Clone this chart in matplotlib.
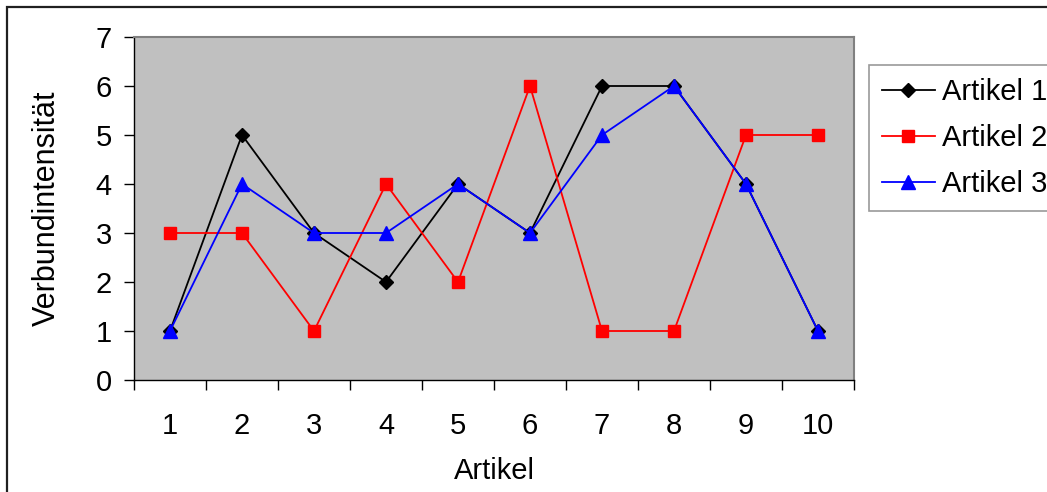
import matplotlib
matplotlib.use("Agg")
import matplotlib.pyplot as plt
from matplotlib.patches import Rectangle

categories = ["1", "2", "3", "4", "5", "6", "7", "8", "9", "10"]
artikel1 = [1, 5, 3, 2, 4, 3, 6, 6, 4, 1]
artikel2 = [3, 3, 1, 4, 2, 6, 1, 1, 5, 5]
artikel3 = [1, 4, 3, 3, 4, 3, 5, 6, 4, 1]
series_names = ["Artikel 1", "Artikel 2", "Artikel 3"]

plt.rcParams['font.family'] = ['Liberation Sans', 'DejaVu Sans']
FS = 21

W, H = 1047, 492
fig = plt.figure(figsize=(W / 100, H / 100), dpi=100)
fig.patch.set_facecolor('white')

# outer chart border
fig.add_artist(Rectangle((7 / W, -0.1), 1.2, (H - 7) / H + 0.1, transform=fig.transFigure,
                         fill=False, edgecolor='#202020', linewidth=1.6))

L, T, R, B = 134, 37, 854, 380
ax = fig.add_axes([L / W, 1 - B / H, (R - L) / W, (B - T) / H])
ax.set_facecolor('#C0C0C0')

x = list(range(1, len(categories) + 1))
ax.plot(x, artikel1, color='black', marker='D', markersize=7, linewidth=1.3, label=series_names[0])
ax.plot(x, artikel2, color='#FF0000', marker='s', markersize=9, linewidth=1.3, label=series_names[1])
ax.plot(x, artikel3, color='#0000FF', marker='^', markersize=9.5, linewidth=1.3, label=series_names[2])

ax.set_xlim(0.5, len(categories) + 0.5)
ax.set_ylim(0, 7)
ax.set_yticks(range(0, 8))
ax.set_xticks(x)
ax.set_xticklabels(categories)
ax.set_xticks([i + 0.5 for i in range(0, len(categories) + 1)], minor=True)
ax.tick_params(axis='x', which='major', length=0, pad=23, labelsize=FS)
ax.tick_params(axis='x', which='minor', length=7, width=1, direction='out')
ax.tick_params(axis='y', length=7, width=1, direction='out', pad=9, labelsize=FS)

for s in ['left', 'bottom']:
    ax.spines[s].set_color('black')
    ax.spines[s].set_linewidth(1)
for s in ['top', 'right']:
    ax.spines[s].set_color('#808080')
    ax.spines[s].set_linewidth(1.5)

ax.set_xlabel("Artikel", fontsize=FS, labelpad=12)
ax.set_ylabel("Verbundintensität", fontsize=FS + 1, labelpad=24)

leg = fig.legend(loc='upper left', bbox_to_anchor=(869 / W, 1 - 65 / H), fontsize=FS,
                 frameon=True, fancybox=False, borderpad=0.45, handlelength=1.8,
                 handletextpad=0.25, labelspacing=0.62, borderaxespad=0)
leg.get_frame().set_edgecolor('#808080')
leg.get_frame().set_linewidth(1.2)

fig.savefig("out.png", dpi=100)
